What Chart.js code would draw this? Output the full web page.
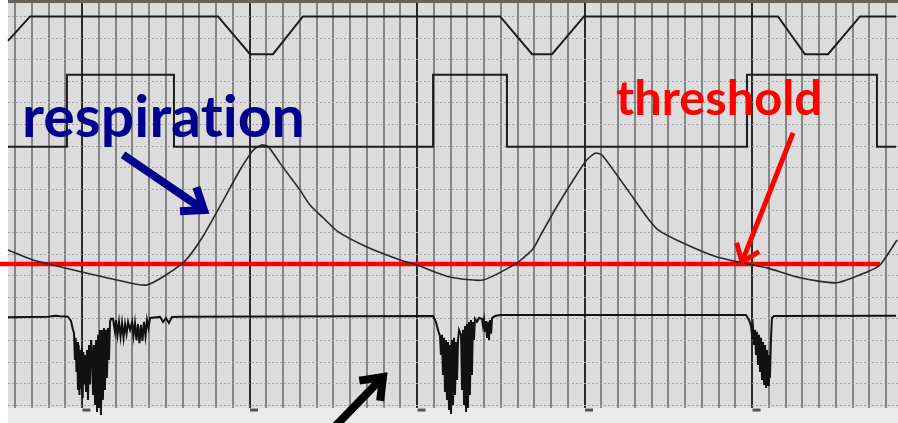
<!DOCTYPE html>
<html>
<head>
<meta charset="utf-8">
<title>respiration / threshold</title>
<script src="https://cdn.jsdelivr.net/npm/chart.js@4.4.1/dist/chart.umd.min.js"></script>
<style>
  html, body { margin: 0; padding: 0; background: #fff; }
  #wrap { width: 898px; height: 423px; }
</style>
</head>
<body>
<div id="wrap"><canvas id="strip" width="898" height="423"></canvas></div>
<script>
// x = small chart divisions (time), y = chart rows counted from the bottom ruled line
const X_MIN = -4.896, X_MAX = 48.716;
const Y_MIN = -0.82, Y_MAX = 18.76;

// top trace (trapezoid)
const topT = [-4.42, -3.10, 8.12, 10.03, 11.40, 13.19, 24.96, 26.87, 28.06, 29.97, 41.55, 43.16, 44.54, 46.45, 48.6];
const topV = [16.87, 18, 18, 16.25, 16.25, 18, 18, 16.25, 16.25, 18, 18, 16.25, 16.25, 18, 18];

// square wave (value holds until next point)
const squareT = [-4.42, -0.90, 5.49, 20.96, 25.37, 39.70, 47.46, 48.6];
const squareV = [11.97, 15.3, 11.97, 15.3, 11.97, 15.3, 11.97, 11.97];

// respiration
const respT = [-4.42, -2.93, 0, 2.09, 3.88, 6.03, 7.15, 8.44, 9.43, 10.23, 10.73, 11.12, 11.82, 13.01, 13.61, 14.41, 15.28, 17.01, 18.99, 20.0, 21.97, 23.94, 25.97, 26.93, 27.34, 28.34, 29.33, 30.13, 30.63, 31.03, 31.72, 32.72, 33.71, 34.39, 35.88, 37.91, 39.46, 40.90, 42.87, 45.07, 46.87, 47.64, 48.66];
const respV = [7.19, 6.73, 6.17, 5.80, 5.57, 6.59, 7.73, 9.50, 10.89, 11.82, 12.05, 11.97, 11.21, 9.97, 9.27, 8.67, 8.04, 7.33, 6.73, 6.49, 5.94, 5.80, 6.59, 7.25, 7.82, 9.19, 10.43, 11.35, 11.67, 11.59, 10.89, 9.81, 8.73, 8.12, 7.51, 6.86, 6.59, 6.36, 5.90, 5.67, 6.17, 6.49, 7.65];

// threshold
const thresholdV = 6.54;
const thresholdT = [X_MIN, 47.64];

// bottom trace with the three bursts
const bottomT = [
  -4.42, -2.0, -1.60, -1.31, -0.84, -0.66, -0.54,
  -0.48, -0.42, -0.38, -0.33, -0.29, -0.24, -0.20, -0.15, -0.10, -0.06, -0.01, 0.04, 0.08, 0.12, 0.18, 0.24, 0.30, 0.36, 0.42, 0.48, 0.54, 0.60,
  0.66, 0.72, 0.78, 0.84, 0.90, 0.96, 1.01, 1.07, 1.13, 1.19, 1.25, 1.31, 1.37, 1.43, 1.49, 1.55, 1.61, 1.67, 1.73,
  1.85, 1.97, 2.03, 2.12, 2.21, 2.30, 2.39, 2.48, 2.57, 2.66, 2.75, 2.87, 2.99, 3.07, 3.16, 3.25, 3.34, 3.43, 3.52, 3.61, 3.70, 3.79, 3.88, 3.97, 4.06,
  4.66, 4.84, 5.01, 5.19, 5.37, 5.85,
  20.96,
  21.13, 21.25, 21.37, 21.43, 21.49, 21.55, 21.61, 21.67, 21.73, 21.79, 21.85, 21.91, 21.97, 22.03, 22.09, 22.15, 22.21, 22.27, 22.33, 22.39, 22.45,
  22.51, 22.63, 22.69, 22.75, 22.81, 22.87, 22.93, 22.99, 23.04, 23.10, 23.16, 23.22, 23.28, 23.34, 23.40, 23.46, 23.58, 23.70,
  23.88, 23.94, 24.00, 24.06, 24.12, 24.18, 24.24, 24.30, 24.36, 24.42, 24.48, 24.66, 24.96,
  39.64,
  39.82, 39.94, 40.0, 40.06, 40.12, 40.18, 40.24, 40.30, 40.36, 40.42, 40.48, 40.54, 40.60, 40.66, 40.72, 40.78, 40.84, 40.90, 40.96, 41.01, 41.07, 41.13, 41.19, 41.31,
  48.6
];
const bottomV = [
  4.08, 4.10, 4.14, 4.12, 4.10, 3.9, 3.5,
  3.35, 2.10, 3.12, 1.54, 2.93, 0.71, 2.79, 0.48, 2.56, 0.81, 2.65, 0.34, 2.47, 0.96, 2.33, 0.62, 2.56, 0.25, 2.79, 0.96, 3.02, 2.56,
  0.48, 2.79, 0.01, 3.02, -0.31, 3.26, -0.12, 3.49, -0.45, 3.49, 0.25, 3.58, 0.71, 3.49, 1.26, 3.58, 2.10, 3.86, 4.0,
  4.0, 3.40, 3.94, 3.26, 3.86, 3.17, 3.81, 3.12, 3.76, 3.31, 3.86, 3.49, 3.86, 3.21, 3.81, 3.02, 3.76, 2.88, 3.72, 2.98, 3.86, 3.21, 3.95, 3.58, 4.04,
  4.09, 3.86, 4.04, 3.81, 4.09, 4.10,
  4.13,
  3.86, 3.49, 3.21, 2.33, 3.26, 1.40, 3.12, 0.62, 3.02, 0.25, 2.93, -0.22, 2.79, -0.40, 3.02, 0.01, 3.12, 0.48, 2.93, 1.17, 3.02,
  3.49, 3.26, 0.71, 3.49, 0.01, 3.67, -0.31, 3.76, -0.12, 3.86, 0.48, 3.95, 1.40, 3.86, 3.02, 4.0, 3.86, 4.04,
  4.0, 3.67, 3.95, 3.40, 3.90, 3.12, 3.86, 3.02, 3.95, 3.31, 4.04, 4.13, 4.18,
  4.18,
  3.95, 3.67, 3.26, 3.58, 2.79, 3.49, 2.33, 3.40, 1.87, 3.26, 1.54, 3.12, 1.17, 2.93, 0.94, 2.79, 0.80, 2.56, 0.94, 2.33, 1.26, 3.02, 4.04, 4.13,
  4.15
];

// small marks printed at the foot of each heavy line
const footT = [0.27, 10.27, 20.27, 30.27, 40.27];
const footV = -0.22;

const PAPER = '#dcdcdc';
const INK = '#1c1c1c';

const toPoints = (xs, ys) => xs.map((x, i) => ({ x, y: Array.isArray(ys) ? ys[i] : ys }));

// paper edges: white margin, dark top edge, pale strip at the foot
const paperPlugin = {
    id: 'paper',
    beforeDraw(chart) {
        const ctx = chart.ctx;
        ctx.save();
        ctx.fillStyle = PAPER;
        ctx.fillRect(0, 0, chart.width, chart.height);
        ctx.restore();
    },
    beforeDatasetsDraw(chart) {
        const { ctx, scales: { x, y } } = chart;
        const left = x.getPixelForValue(-4.42);
        const foot = y.getPixelForValue(-0.12);
        ctx.save();
        ctx.fillStyle = '#ebebeb';
        ctx.fillRect(0, foot, chart.width, chart.height - foot);
        ctx.fillStyle = '#ffffff';
        ctx.fillRect(0, 0, left, chart.height);
        ctx.fillStyle = '#67635a';
        ctx.fillRect(left, 0, chart.width - left, y.getPixelForValue(18.62));
        ctx.restore();
    }
};

// labels and arrows laid over the strip
const notes = {
    respiration: { text: 'respiration', color: '#00008c', size: 57, left: -3.58, right: 13.31, base: 12.42 },
    threshold: { text: 'threshold', color: '#ff0000', size: 48, left: 31.88, right: 44.18, base: 13.44 },
    arrows: [
        { from: [2.45, 11.60], to: [7.28, 9.04], color: '#00008c', width: 8, head: 24 },
        { from: [42.45, 12.61], to: [39.40, 6.63], color: '#ff0000', width: 5, head: 20 },
        { from: [14.33, -1.6], to: [17.97, 1.31], color: '#000000', width: 8, head: 24 }
    ]
};

// text keeps its height, and is squeezed to the width it has on the slide
function fitText(ctx, note, x, y) {
    const l = x.getPixelForValue(note.left);
    const r = x.getPixelForValue(note.right);
    ctx.save();
    ctx.textRendering = 'optimizeSpeed';
    ctx.font = `bold ${note.size}px Lato`;
    const k = (r - l) / ctx.measureText(note.text).width;
    ctx.translate(l, y.getPixelForValue(note.base));
    ctx.scale(k, 1);
    ctx.fillStyle = note.color;
    ctx.textBaseline = 'alphabetic';
    ctx.fillText(note.text, 0, 0);
    ctx.restore();
}

function drawArrow(ctx, a, x, y) {
    const x1 = x.getPixelForValue(a.from[0]), y1 = y.getPixelForValue(a.from[1]);
    const x2 = x.getPixelForValue(a.to[0]), y2 = y.getPixelForValue(a.to[1]);
    const ang = Math.atan2(y2 - y1, x2 - x1);
    ctx.strokeStyle = a.color;
    ctx.lineWidth = a.width;
    ctx.lineCap = 'butt';
    ctx.lineJoin = 'miter';
    ctx.beginPath();
    ctx.moveTo(x1, y1);
    ctx.lineTo(x2 - Math.cos(ang) * a.width * 0.8, y2 - Math.sin(ang) * a.width * 0.8);
    ctx.stroke();
    ctx.beginPath();
    ctx.moveTo(x2 - a.head * Math.cos(ang - 0.65), y2 - a.head * Math.sin(ang - 0.65));
    ctx.lineTo(x2, y2);
    ctx.lineTo(x2 - a.head * Math.cos(ang + 0.65), y2 - a.head * Math.sin(ang + 0.65));
    ctx.stroke();
}

const notesPlugin = {
    id: 'notes',
    afterDatasetsDraw(chart) {
        const { ctx, scales: { x, y } } = chart;
        ctx.save();
        fitText(ctx, notes.respiration, x, y);
        fitText(ctx, notes.threshold, x, y);
        notes.arrows.forEach(a => drawArrow(ctx, a, x, y));
        ctx.restore();
    }
};

const trace = (label, data, extra) => Object.assign({
    label,
    data,
    borderColor: INK,
    borderWidth: 2,
    pointRadius: 0,
    tension: 0,
    fill: false
}, extra || {});

new Chart(document.getElementById('strip'), {
    type: 'line',
    data: {
        datasets: [
            trace('top', toPoints(topT, topV)),
            trace('square', toPoints(squareT, squareV), { stepped: true }),
            trace('respiration', toPoints(respT, respV), { borderWidth: 1.6, borderColor: '#2a2a2a', tension: 0.2 }),
            trace('bottom', toPoints(bottomT, bottomV), { borderWidth: 2, borderColor: '#111' }),
            trace('foot marks', toPoints(footT, footV), { showLine: false, pointStyle: 'line', pointRadius: 4, pointBorderWidth: 3, pointBorderColor: '#555' }),
            trace('threshold', toPoints(thresholdT, thresholdV), { borderColor: '#ff0000', borderWidth: 4.5 })
        ]
    },
    options: {
        responsive: false,
        animation: false,
        layout: { padding: 0, autoPadding: false },
        plugins: {
            legend: { display: false },
            tooltip: { enabled: false }
        },
        scales: {
            x: {
                type: 'linear',
                min: X_MIN,
                max: X_MAX,
                ticks: { display: false, stepSize: 1, includeBounds: false, autoSkip: false },
                grid: {
                    drawTicks: false,
                    lineWidth: 2,
                    color: c => (Math.round(c.tick.value) % 10 === 0 ? '#2a2a2a' : '#858585')
                },
                border: { display: false }
            },
            y: {
                type: 'linear',
                min: Y_MIN,
                max: Y_MAX,
                ticks: { display: false, stepSize: 1, includeBounds: false },
                grid: { drawTicks: false, lineWidth: 1, color: '#a2a2a2' },
                border: { display: false, dash: [2, 2] }
            }
        }
    },
    plugins: [paperPlugin, notesPlugin]
});
</script>
</body>
</html>
